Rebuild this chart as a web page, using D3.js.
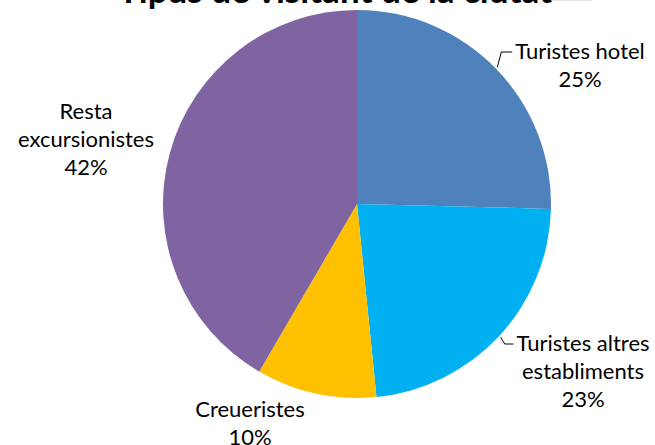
<!DOCTYPE html>
<html>
<head>
<meta charset="utf-8">
<script src="https://cdn.jsdelivr.net/npm/d3@7"></script>
<style>
  body { margin: 0; background: #fff; }
  svg text { font-family: Lato, "Open Sans", sans-serif; fill: #000; }
</style>
</head>
<body>
<div id="chart"></div>
<script>
// dades del gràfic
var categories = ["Turistes hotel", "Turistes altres establiments", "Creueristes", "Resta excursionistes"];
var labelLines = [["Turistes hotel"], ["Turistes altres", "establiments"], ["Creueristes"], ["Resta", "excursionistes"]];
var values = [25.4, 23.0, 10.0, 41.6];
var colors = ["#4F81BD", "#00B0F0", "#FFC000", "#8064A2"];
var title = "Tipus de visitant de la ciutat";

// posicions de les etiquetes (centre x, primera línia y) i si porten línia guia
var labelPos = [
  {x: 580, y: 59, leader: true},
  {x: 583, y: 351, leader: true},
  {x: 250, y: 417, leader: false},
  {x: 86, y: 119, leader: false}
];

var width = 655, height = 445;
var cx = 357, cy = 204, radius = 194;
var lineH = 28;

var svg = d3.select("#chart").append("svg")
  .attr("width", width)
  .attr("height", height);

// títol (queda tallat a la part de dalt)
svg.append("text")
  .attr("x", 335)
  .attr("y", 3)
  .attr("text-anchor", "middle")
  .style("font-weight", "bold")
  .style("font-size", "35px")
  .text(title);

svg.append("line")
  .attr("x1", 552).attr("x2", 592)
  .attr("y1", 0.5).attr("y2", 0.5)
  .attr("stroke", "#e6e6e6");

var total = d3.sum(values);
var pie = d3.pie().sort(null).value(d => d);
var arc = d3.arc().innerRadius(0).outerRadius(radius);

var g = svg.append("g").attr("transform", `translate(${cx},${cy})`);
var arcs = pie(values);

g.selectAll("path")
  .data(arcs)
  .enter()
  .append("path")
  .attr("d", arc)
  .attr("fill", (d, i) => colors[i]);

// etiquetes
arcs.forEach(function(d, i) {
  var p = labelPos[i];
  var lines = labelLines[i].concat([Math.round(d.value / total * 100) + "%"]);
  var t = svg.append("text")
    .attr("text-anchor", "middle")
    .style("font-size", "22px");
  lines.forEach(function(l, k) {
    t.append("tspan")
      .attr("x", p.x)
      .attr("y", p.y + k * lineH)
      .text(l);
  });

  if (p.leader) {
    var firstW = t.select("tspan").node().getComputedTextLength();
    var mid = (d.startAngle + d.endAngle) / 2;
    var sx = cx + (radius + 2) * Math.sin(mid);
    var sy = cy - (radius + 2) * Math.cos(mid);
    var ey = p.y - 7;
    var ex = p.x - firstW / 2 - 3;
    svg.append("path")
      .attr("d", `M${sx},${sy}L${sx + 4},${ey}L${ex},${ey}`)
      .attr("fill", "none")
      .attr("stroke", "#000")
      .attr("stroke-width", 1);
  }
});
</script>
</body>
</html>
